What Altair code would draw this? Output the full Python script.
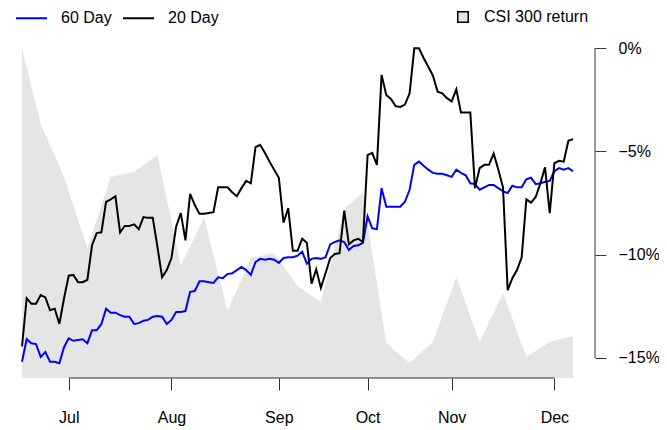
import altair as alt
import pandas as pd

# trading-day index (0 = mid June)
idx = list(range(119))

day60 = [0.283, 0.311, 0.306, 0.305, 0.289, 0.295, 0.283, 0.283, 0.281, 0.301,
         0.312, 0.309, 0.310, 0.311, 0.306, 0.322, 0.322, 0.330, 0.349, 0.344,
         0.344, 0.341, 0.339, 0.339, 0.330, 0.331, 0.334, 0.335, 0.339, 0.340,
         0.339, 0.330, 0.335, 0.345, 0.345, 0.346, 0.370, 0.371, 0.383, 0.383,
         0.382, 0.381, 0.388, 0.387, 0.392, 0.393, 0.397, 0.401, 0.397, 0.391,
         0.407, 0.411, 0.410, 0.411, 0.410, 0.406, 0.412, 0.413, 0.413, 0.415,
         0.420, 0.405, 0.411, 0.412, 0.411, 0.413, 0.429, 0.432, 0.434, 0.432,
         0.422, 0.427, 0.428, 0.431, 0.464, 0.449, 0.448, 0.499, 0.476, 0.476,
         0.476, 0.476, 0.482, 0.497, 0.528, 0.532, 0.527, 0.522, 0.518, 0.517,
         0.517, 0.515, 0.513, 0.522, 0.518, 0.515, 0.505, 0.504, 0.497, 0.500,
         0.503, 0.503, 0.499, 0.495, 0.493, 0.502, 0.500, 0.500, 0.510, 0.512,
         0.504, 0.505, 0.507, 0.508, 0.520, 0.524, 0.522, 0.524, 0.520]

day20 = [0.302, 0.362, 0.355, 0.355, 0.366, 0.363, 0.347, 0.349, 0.330, 0.362,
         0.390, 0.391, 0.382, 0.382, 0.385, 0.428, 0.443, 0.444, 0.482, 0.485,
         0.489, 0.444, 0.452, 0.452, 0.454, 0.448, 0.463, 0.462, 0.462, 0.426,
         0.388, 0.397, 0.412, 0.451, 0.468, 0.434, 0.492, 0.478, 0.467, 0.467,
         0.468, 0.469, 0.500, 0.500, 0.500, 0.494, 0.489, 0.499, 0.508, 0.505,
         0.550, 0.553, 0.543, 0.532, 0.522, 0.512, 0.456, 0.474, 0.421, 0.421,
         0.436, 0.431, 0.380, 0.398, 0.375, 0.393, 0.412, 0.417, 0.418, 0.471,
         0.429, 0.434, 0.436, 0.432, 0.540, 0.543, 0.528, 0.640, 0.615, 0.610,
         0.601, 0.600, 0.603, 0.617, 0.673, 0.673, 0.661, 0.650, 0.639, 0.619,
         0.617, 0.611, 0.607, 0.622, 0.593, 0.593, 0.593, 0.499, 0.524, 0.528,
         0.528, 0.542, 0.522, 0.500, 0.372, 0.387, 0.397, 0.413, 0.485, 0.481,
         0.488, 0.505, 0.525, 0.468, 0.530, 0.533, 0.532, 0.558, 0.560]

csi_idx = [0, 4, 9, 14, 19, 24, 29, 34, 39, 44, 49, 54, 59, 64, 69, 73,
           78, 83, 88, 93, 98, 103, 108, 113, 118]
csi_ret = [0.0, -3.68, -6.24, -9.68, -6.24, -6.0, -5.18, -10.5, -8.23, -12.73,
           -10.16, -9.92, -11.52, -12.29, -7.79, -7.02, -14.27, -15.24, -14.23,
           -11.08, -14.23, -11.85, -14.95, -14.23, -13.94]

month_names = ["Jul", "Aug", "Sep", "Oct", "Nov", "Dec"]
month_idx = [10, 32, 55, 74, 92, 114]
right_ticks = [0, -5, -10, -15]

W, H = 587, 345
x_dom = [-3.0, 122.7]
left_dom = [0.2627, 0.6921]
right_dom = [-15.968, 0.726]
FONT = "Liberation Sans"

lines_df = pd.DataFrame({
    "idx": idx * 2,
    "value": day60 + day20,
    "series": ["60 Day"] * len(idx) + ["20 Day"] * len(idx),
})
area_df = pd.DataFrame({"idx": csi_idx, "ret": csi_ret, "name": "CSI 300 return"})
xrule_df = pd.DataFrame({"a": [month_idx[0]], "b": [month_idx[-1]]})
yrule_df = pd.DataFrame({"top": [max(right_ticks)], "bot": [min(right_ticks)]})

xscale = alt.Scale(domain=x_dom, nice=False, zero=False)
x_lab = " : ".join(f"datum.value == {i} ? '{m}'" for i, m in zip(month_idx, month_names)) + " : ''"
xaxis = alt.Axis(values=month_idx, labelExpr=x_lab, domain=False, grid=False,
                 tickSize=12, tickColor="#333333", tickWidth=1, labelPadding=19,
                 labelFontSize=16, labelColor="black", labelFont=FONT, title=None)

right_scale = alt.Scale(domain=right_dom, nice=False, zero=False)
left_scale = alt.Scale(domain=left_dom, nice=False, zero=False)

area = alt.Chart(area_df).mark_area(opacity=1, strokeWidth=0).encode(
    x=alt.X("idx:Q", scale=xscale, axis=xaxis),
    y=alt.Y("ret:Q", scale=right_scale,
            axis=alt.Axis(orient="right", values=right_ticks,
                          labelExpr="replace(format(datum.value, 'd'), '-', '\u2212') + '%'",
                          domain=False, grid=False, tickSize=11, tickColor="#333333",
                          labelPadding=12, labelFontSize=16, labelColor="black",
                          labelFont=FONT, title=None)),
    y2=alt.datum(right_dom[0]),
    fill=alt.Fill("name:N", scale=alt.Scale(domain=["CSI 300 return"], range=["#e5e5e5"]),
                  legend=alt.Legend(orient="none", legendX=447, legendY=-24, title=None,
                                    symbolType="square", symbolSize=110,
                                    symbolStrokeColor="black", symbolStrokeWidth=1.5,
                                    symbolOpacity=1, labelFontSize=16, labelOffset=13,
                                    labelColor="black", labelFont=FONT, padding=0)),
)

lines = alt.Chart(lines_df).mark_line(strokeWidth=2).encode(
    x=alt.X("idx:Q", scale=xscale, axis=xaxis),
    y=alt.Y("value:Q", scale=left_scale, axis=None),
    color=alt.Color("series:N",
                    scale=alt.Scale(domain=["60 Day", "20 Day"], range=["#0000ff", "#000000"]),
                    legend=alt.Legend(orient="none", legendX=7, legendY=-31.5, title=None,
                                      direction="horizontal", symbolType="stroke",
                                      symbolSize=961, symbolStrokeWidth=2,
                                      labelFontSize=16, labelOffset=13, columnPadding=7,
                                      labelColor="black", labelFont=FONT, padding=0)),
)

xrule = alt.Chart(xrule_df).mark_rule(color="#333333", strokeWidth=1).encode(
    x=alt.X("a:Q", scale=xscale, axis=xaxis),
    x2="b:Q",
    y=alt.value(H),
)

yrule = alt.Chart(yrule_df).mark_rule(color="#333333", strokeWidth=1).encode(
    x=alt.value(W),
    y=alt.Y("top:Q", scale=right_scale, axis=None),
    y2="bot:Q",
)

chart = alt.layer(area, lines, xrule, yrule).resolve_scale(
    y="independent"
).properties(
    width=W, height=H,
    padding={"left": 0, "top": 25, "right": 64, "bottom": 50},
    autosize=alt.AutoSizeParams(type="none"),
).configure(font=FONT).configure_view(stroke=None)

chart.save("out.html", embed_options={"renderer": "svg", "actions": False})
